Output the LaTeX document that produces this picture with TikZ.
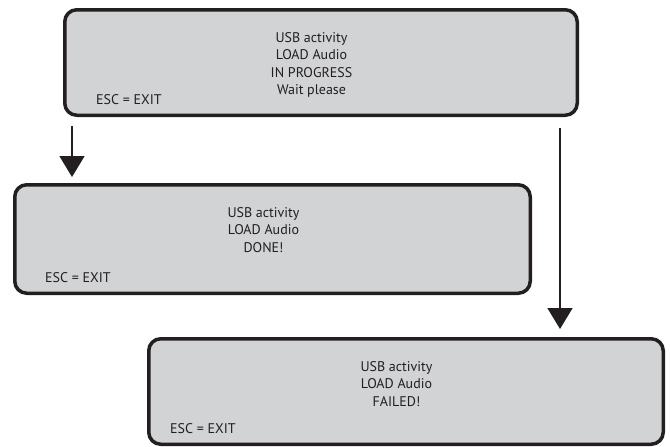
\documentclass[tikz,border=0pt]{standalone}
\usepackage{fontspec}
\setmainfont{PT Sans}
\usetikzlibrary{arrows.meta}
\definecolor{panelgray}{HTML}{D1D3D4}
\definecolor{ink}{HTML}{231F20}
\tikzset{
  panel/.style={draw=ink, fill=panelgray, line width=3.5pt, rounded corners=12pt, inner sep=0pt},
  msg/.style={font=\fontsize{14}{17.5}\selectfont, text=ink, align=center, inner sep=0pt, anchor=north},
  esc/.style={font=\fontsize{14}{15}\selectfont, text=ink, inner sep=0pt, anchor=base west},
  arr/.style={draw=ink, line width=1.6pt, -{Triangle[length=21pt,width=25pt]}}
}
\begin{document}
\begin{tikzpicture}[x=1pt,y=-1pt]
\useasboundingbox (0,0) rectangle (670,447);
% panels (outer edges measured in px)
\node[panel, minimum width=512.5pt, minimum height=105.5pt] (box1) at (321,62.5) {};
\node[panel, minimum width=515.5pt, minimum height=108.5pt] (box2) at (272.5,239) {};
\node[panel, minimum width=514.5pt, minimum height=105.5pt] (box3) at (406,391.5) {};
% texts
\node[msg] (t1) at (311.5,32) {USB activity\\LOAD Audio\\IN PROGRESS\\Wait please};
\node[esc] (e1) at (96,104) {ESC = EXIT};
\node[msg] (t2) at (263.5,207) {USB activity\\LOAD Audio\\DONE!};
\node[esc] (e2) at (45,282) {ESC = EXIT};
\node[msg] (t3) at (396.5,361) {USB activity\\LOAD Audio\\FAILED!};
\node[esc] (e3) at (170,433) {ESC = EXIT};
% connectors
\coordinate (a1) at ([shift={(9,9)}]box1.south west);
\coordinate (a2) at ([shift={(-19,11)}]box1.south east);
\draw[arr, shorten >=6pt] (a1) -- (a1 |- box2.north);
\draw[arr, shorten >=8pt] (a2) -- (a2 |- box3.north);
\end{tikzpicture}
\end{document}
